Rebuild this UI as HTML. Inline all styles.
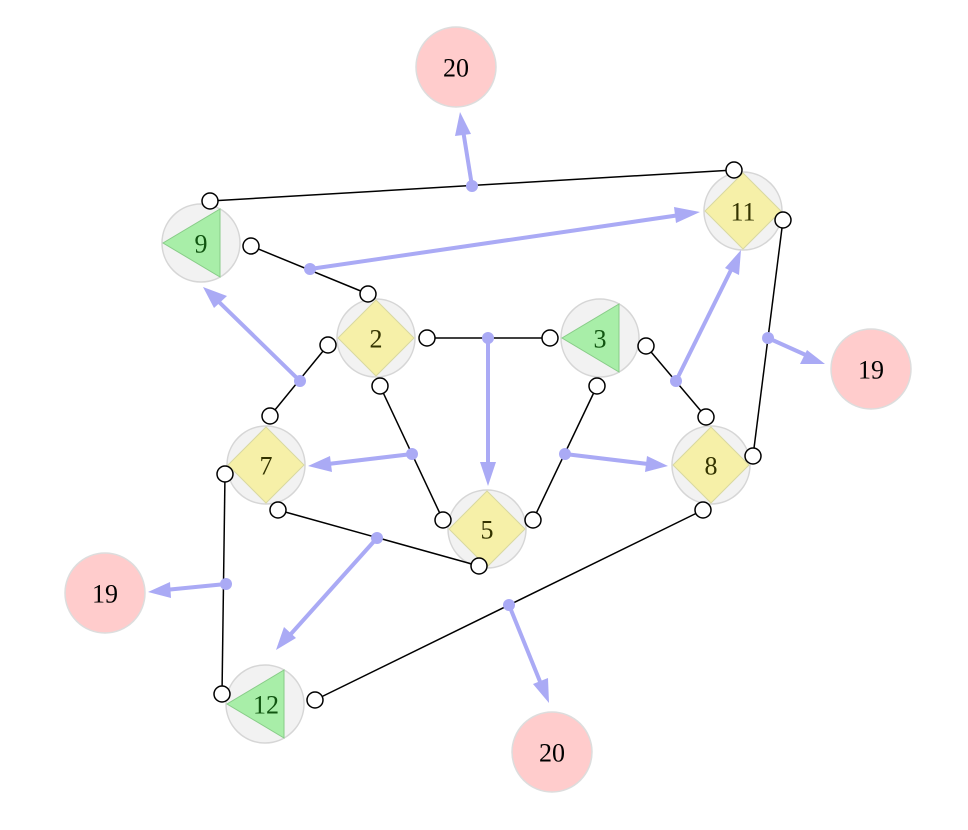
<!DOCTYPE html>
<html><head><meta charset="utf-8"><style>html,body{margin:0;padding:0;background:#fff}</style></head>
<body>
<svg width="968" height="825" viewBox="0 0 968 825" xmlns="http://www.w3.org/2000/svg" font-family="Liberation Serif, serif">
<defs>
<marker id="a" markerWidth="8" markerHeight="8" refX="7" refY="4" orient="auto" markerUnits="userSpaceOnUse" viewBox="0 0 8 8">
</marker>
</defs>
<g fill="#f2f2f2" stroke="#d6d6d6" stroke-width="1.5">
<circle cx="201" cy="243" r="39"/>
<circle cx="743" cy="211" r="39"/>
<circle cx="376" cy="338" r="39"/>
<circle cx="600" cy="338" r="39"/>
<circle cx="266" cy="465" r="39"/>
<circle cx="711" cy="465" r="39"/>
<circle cx="487" cy="529" r="39"/>
<circle cx="265" cy="704" r="39"/>
</g>
<g fill="#ffcccc" stroke="#dddddd" stroke-width="1.5">
<circle cx="456" cy="67" r="40"/>
<circle cx="871" cy="369" r="40"/>
<circle cx="105" cy="593" r="40"/>
<circle cx="552" cy="752" r="40"/>
</g>
<g fill="#f6f0a8" stroke="#d8d8a0" stroke-width="1">
<polygon points="743,173 781,211 743,249 705,211"/>
<polygon points="376,300 414,338 376,376 338,338"/>
<polygon points="266,427 304,465 266,503 228,465"/>
<polygon points="711,427 749,465 711,503 673,465"/>
<polygon points="487,491 525,529 487,567 449,529"/>
</g>
<g fill="#a8eea8" stroke="#88cc88" stroke-width="1">
<polygon points="220,209 220,277 163,243"/>
<polygon points="619,304 619,372 562,338"/>
<polygon points="284,670 284,738 227,704"/>
</g>
<g stroke="#000" stroke-width="1.5" fill="none">
<line x1="210" y1="201" x2="734" y2="170"/>
<line x1="251" y1="246" x2="368" y2="294"/>
<line x1="328" y1="345" x2="270" y2="416"/>
<line x1="427" y1="338" x2="550" y2="338"/>
<line x1="646" y1="346" x2="706" y2="417"/>
<line x1="783" y1="220" x2="753" y2="456"/>
<line x1="380" y1="386" x2="443" y2="520"/>
<line x1="597" y1="386" x2="533" y2="520"/>
<line x1="278" y1="510" x2="479" y2="566"/>
<line x1="225" y1="474" x2="222" y2="694"/>
<line x1="703" y1="510" x2="315" y2="700"/>
</g>
<g stroke="#aaaaf5" stroke-width="4" fill="none">
<line x1="472" y1="186" x2="463" y2="130"/>
<line x1="310" y1="269" x2="680" y2="215"/>
<line x1="300" y1="381" x2="218" y2="301"/>
<line x1="488" y1="338" x2="488" y2="466"/>
<line x1="676" y1="381" x2="732" y2="268"/>
<line x1="768" y1="338" x2="808" y2="356"/>
<line x1="412" y1="454" x2="328" y2="464"/>
<line x1="565" y1="454" x2="648" y2="464"/>
<line x1="377" y1="538" x2="290" y2="635"/>
<line x1="226" y1="584" x2="165" y2="590"/>
<line x1="509" y1="605" x2="541" y2="684"/>
</g>
<g fill="#aaaaf5">
<polygon points="460,112 471,134 455,136"/>
<polygon points="700,212 676,223 674,207"/>
<polygon points="203,287 227,296 214,308"/>
<polygon points="488,486 480,462 496,462"/>
<polygon points="741,250 739,275 725,268"/>
<polygon points="825,364 800,364 807,350"/>
<polygon points="308,466 330,456 332,472"/>
<polygon points="668,466 645,472 647,456"/>
<polygon points="276,650 284,627 296,638"/>
<polygon points="148,592 170,582 171,598"/>
<polygon points="549,703 533,684 548,678"/>
</g>
<g fill="#aaaaf5">
<circle cx="472" cy="186" r="6"/><circle cx="310" cy="269" r="6"/><circle cx="300" cy="381" r="6"/>
<circle cx="488" cy="338" r="6"/><circle cx="676" cy="381" r="6"/><circle cx="768" cy="338" r="6"/>
<circle cx="412" cy="454" r="6"/><circle cx="565" cy="454" r="6"/><circle cx="377" cy="538" r="6"/>
<circle cx="226" cy="584" r="6"/><circle cx="509" cy="605" r="6"/>
</g>
<g fill="#fff" stroke="#000" stroke-width="1.5">
<circle cx="210" cy="201" r="8"/><circle cx="734" cy="170" r="8"/>
<circle cx="251" cy="246" r="8"/><circle cx="368" cy="294" r="8"/>
<circle cx="328" cy="345" r="8"/><circle cx="270" cy="416" r="8"/>
<circle cx="427" cy="338" r="8"/><circle cx="550" cy="338" r="8"/>
<circle cx="646" cy="346" r="8"/><circle cx="706" cy="417" r="8"/>
<circle cx="783" cy="220" r="8"/><circle cx="753" cy="456" r="8"/>
<circle cx="380" cy="386" r="8"/><circle cx="443" cy="520" r="8"/>
<circle cx="597" cy="386" r="8"/><circle cx="533" cy="520" r="8"/>
<circle cx="278" cy="510" r="8"/><circle cx="479" cy="566" r="8"/>
<circle cx="225" cy="474" r="8"/><circle cx="222" cy="694" r="8"/>
<circle cx="703" cy="510" r="8"/><circle cx="315" cy="700" r="8"/>
</g>
<g font-size="26" text-anchor="middle" dominant-baseline="central">
<text x="201" y="244" fill="#115511">9</text>
<text x="600" y="339" fill="#115511">3</text>
<text x="266" y="705" fill="#115511">12</text>
<text x="743" y="212" fill="#333300">11</text>
<text x="376" y="339" fill="#333300">2</text>
<text x="266" y="466" fill="#333300">7</text>
<text x="711" y="466" fill="#333300">8</text>
<text x="487" y="530" fill="#333300">5</text>
<text x="456" y="68" fill="#000">20</text>
<text x="871" y="370" fill="#000">19</text>
<text x="105" y="594" fill="#000">19</text>
<text x="552" y="753" fill="#000">20</text>
</g>
</svg>
</body></html>
